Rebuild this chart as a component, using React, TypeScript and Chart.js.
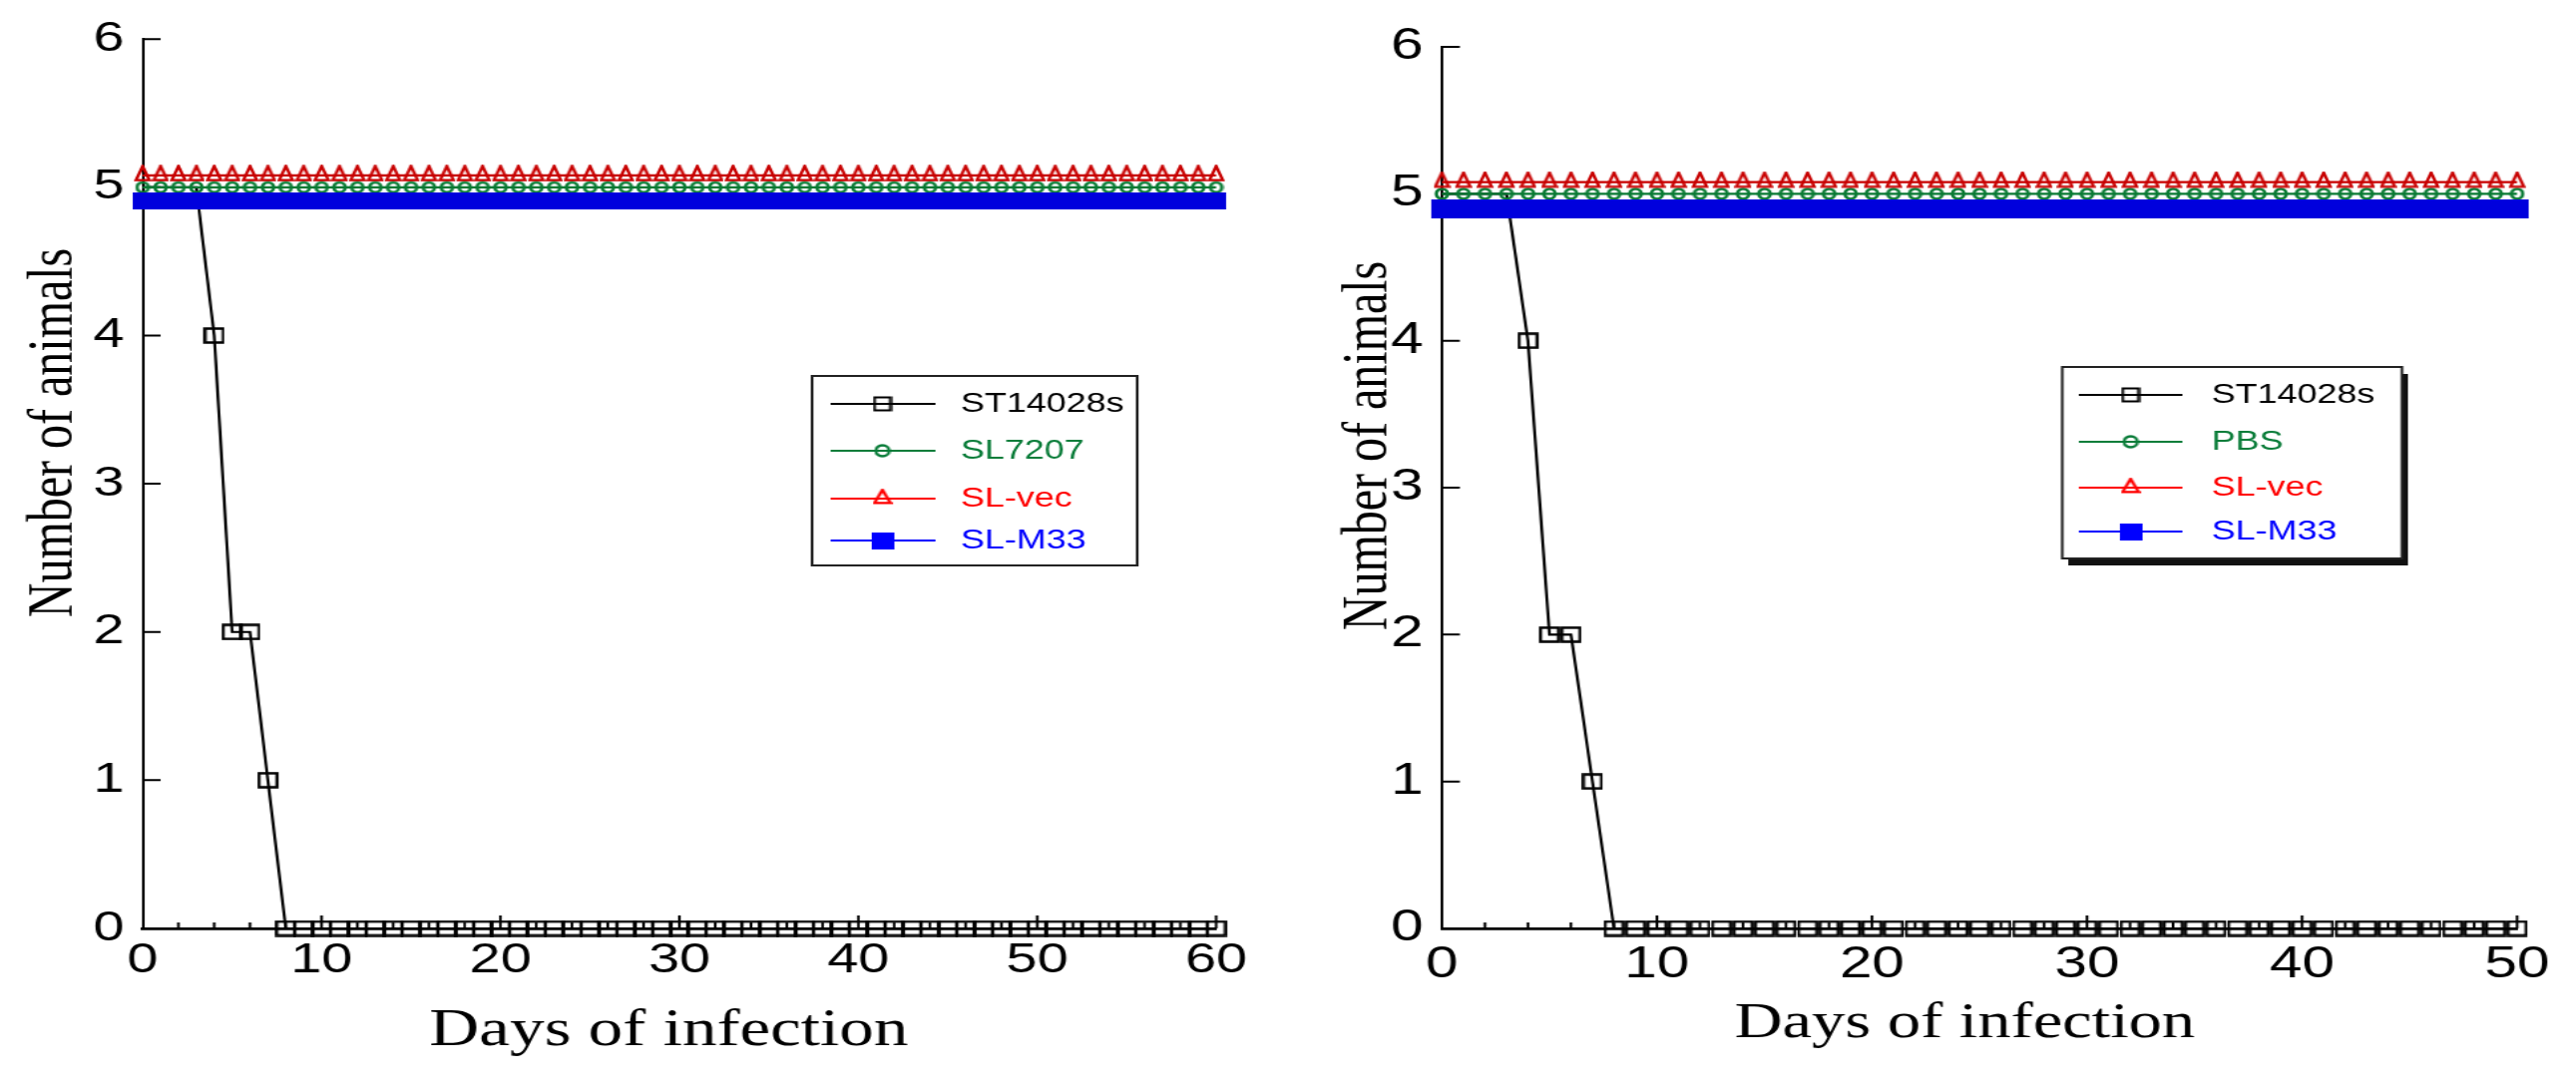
import React, { useEffect, useRef } from "react";
import { Chart, registerables } from "chart.js";

Chart.register(...registerables);

// ---------------- data ----------------
const daysLeft = [
  0, 1, 2, 3, 4, 5, 6, 7, 8, 9,
  10, 11, 12, 13, 14, 15, 16, 17, 18, 19,
  20, 21, 22, 23, 24, 25, 26, 27, 28, 29,
  30, 31, 32, 33, 34, 35, 36, 37, 38, 39,
  40, 41, 42, 43, 44, 45, 46, 47, 48, 49,
  50, 51, 52, 53, 54, 55, 56, 57, 58, 59,
  60,
];
const st14028sLeft = [
  5, 5, 5, 5, 4, 2, 2, 1, 0, 0,
  0, 0, 0, 0, 0, 0, 0, 0, 0, 0,
  0, 0, 0, 0, 0, 0, 0, 0, 0, 0,
  0, 0, 0, 0, 0, 0, 0, 0, 0, 0,
  0, 0, 0, 0, 0, 0, 0, 0, 0, 0,
  0, 0, 0, 0, 0, 0, 0, 0, 0, 0,
  0,
];
const sl7207Left = [
  5, 5, 5, 5, 5, 5, 5, 5, 5, 5,
  5, 5, 5, 5, 5, 5, 5, 5, 5, 5,
  5, 5, 5, 5, 5, 5, 5, 5, 5, 5,
  5, 5, 5, 5, 5, 5, 5, 5, 5, 5,
  5, 5, 5, 5, 5, 5, 5, 5, 5, 5,
  5, 5, 5, 5, 5, 5, 5, 5, 5, 5,
  5,
];
const slVecLeft = [
  5.08, 5.08, 5.08, 5.08, 5.08, 5.08, 5.08, 5.08, 5.08, 5.08,
  5.08, 5.08, 5.08, 5.08, 5.08, 5.08, 5.08, 5.08, 5.08, 5.08,
  5.08, 5.08, 5.08, 5.08, 5.08, 5.08, 5.08, 5.08, 5.08, 5.08,
  5.08, 5.08, 5.08, 5.08, 5.08, 5.08, 5.08, 5.08, 5.08, 5.08,
  5.08, 5.08, 5.08, 5.08, 5.08, 5.08, 5.08, 5.08, 5.08, 5.08,
  5.08, 5.08, 5.08, 5.08, 5.08, 5.08, 5.08, 5.08, 5.08, 5.08,
  5.08,
];
const slM33Left = [
  4.91, 4.91, 4.91, 4.91, 4.91, 4.91, 4.91, 4.91, 4.91, 4.91,
  4.91, 4.91, 4.91, 4.91, 4.91, 4.91, 4.91, 4.91, 4.91, 4.91,
  4.91, 4.91, 4.91, 4.91, 4.91, 4.91, 4.91, 4.91, 4.91, 4.91,
  4.91, 4.91, 4.91, 4.91, 4.91, 4.91, 4.91, 4.91, 4.91, 4.91,
  4.91, 4.91, 4.91, 4.91, 4.91, 4.91, 4.91, 4.91, 4.91, 4.91,
  4.91, 4.91, 4.91, 4.91, 4.91, 4.91, 4.91, 4.91, 4.91, 4.91,
  4.91,
];

const daysRight = [
  0, 1, 2, 3, 4, 5, 6, 7, 8, 9,
  10, 11, 12, 13, 14, 15, 16, 17, 18, 19,
  20, 21, 22, 23, 24, 25, 26, 27, 28, 29,
  30, 31, 32, 33, 34, 35, 36, 37, 38, 39,
  40, 41, 42, 43, 44, 45, 46, 47, 48, 49,
  50,
];
const st14028sRight = [
  5, 5, 5, 5, 4, 2, 2, 1, 0, 0,
  0, 0, 0, 0, 0, 0, 0, 0, 0, 0,
  0, 0, 0, 0, 0, 0, 0, 0, 0, 0,
  0, 0, 0, 0, 0, 0, 0, 0, 0, 0,
  0, 0, 0, 0, 0, 0, 0, 0, 0, 0,
  0,
];
const pbsRight = [
  5, 5, 5, 5, 5, 5, 5, 5, 5, 5,
  5, 5, 5, 5, 5, 5, 5, 5, 5, 5,
  5, 5, 5, 5, 5, 5, 5, 5, 5, 5,
  5, 5, 5, 5, 5, 5, 5, 5, 5, 5,
  5, 5, 5, 5, 5, 5, 5, 5, 5, 5,
  5,
];
const slVecRight = [
  5.08, 5.08, 5.08, 5.08, 5.08, 5.08, 5.08, 5.08, 5.08, 5.08,
  5.08, 5.08, 5.08, 5.08, 5.08, 5.08, 5.08, 5.08, 5.08, 5.08,
  5.08, 5.08, 5.08, 5.08, 5.08, 5.08, 5.08, 5.08, 5.08, 5.08,
  5.08, 5.08, 5.08, 5.08, 5.08, 5.08, 5.08, 5.08, 5.08, 5.08,
  5.08, 5.08, 5.08, 5.08, 5.08, 5.08, 5.08, 5.08, 5.08, 5.08,
  5.08,
];
const slM33Right = [
  4.9, 4.9, 4.9, 4.9, 4.9, 4.9, 4.9, 4.9, 4.9, 4.9,
  4.9, 4.9, 4.9, 4.9, 4.9, 4.9, 4.9, 4.9, 4.9, 4.9,
  4.9, 4.9, 4.9, 4.9, 4.9, 4.9, 4.9, 4.9, 4.9, 4.9,
  4.9, 4.9, 4.9, 4.9, 4.9, 4.9, 4.9, 4.9, 4.9, 4.9,
  4.9, 4.9, 4.9, 4.9, 4.9, 4.9, 4.9, 4.9, 4.9, 4.9,
  4.9,
];

const yTickValues = [1, 2, 3, 4, 5, 6];
const xMajorLeft = [10, 20, 30, 40, 50, 60];
const xMinorLeft = [2, 4, 6, 8, 12, 14, 16, 18, 22, 24, 26, 28, 32, 34, 36, 38, 42, 44, 46, 48, 52, 54, 56, 58];
const xMajorRight = [10, 20, 30, 40, 50];
const xMinorRight = [2, 4, 6, 8, 12, 14, 16, 18, 22, 24, 26, 28, 32, 34, 36, 38, 42, 44, 46, 48];

const labelsLeft = ["ST14028s", "SL7207", "SL-vec", "SL-M33"];
const labelsRight = ["ST14028s", "PBS", "SL-vec", "SL-M33"];
const xTitle = "Days of infection";
const yTitle = "Number of animals";

// ---------------- styling ----------------
const STRETCH = 1.33; // horizontal stretch of each panel
const PAGE_HALF = 1291;
const CW = 971; // canvas width (stretched to ~1291)
const CH = 1088;

const SANS = '"Liberation Sans", Arial, Helvetica, sans-serif';
const SERIF = '"Liberation Serif", "Times New Roman", Times, serif';

const plotColors = ["#000000", "#0a7a34", "#c80000", "#0000dd"];
const legendColors = ["#000000", "#0b7d3a", "#ff0000", "#0000ff"];

function makeMarker(kind: string, w: number, h: number, color: string, lw: number, fill: boolean) {
  const c = document.createElement("canvas");
  const pad = fill ? 0 : lw;
  const H = kind === "triangle" ? Math.ceil((h * 4) / 3 + pad) : Math.ceil(h + pad);
  c.width = Math.ceil(w + pad);
  c.height = H;
  const g = c.getContext("2d")!;
  g.strokeStyle = color;
  g.fillStyle = color;
  g.lineWidth = lw;
  const cx = c.width / 2;
  const cy = c.height / 2;
  g.beginPath();
  if (kind === "rect") {
    g.rect(cx - w / 2, cy - h / 2, w, h);
  } else if (kind === "circle") {
    g.ellipse(cx, cy, w / 2, h / 2, 0, 0, Math.PI * 2);
  } else if (kind === "triangle") {
    g.moveTo(cx, cy - (2 * h) / 3);
    g.lineTo(cx + w / 2, cy + h / 3);
    g.lineTo(cx - w / 2, cy + h / 3);
    g.closePath();
  }
  if (fill) g.fill();
  else g.stroke();
  return c;
}

type PanelSpec = {
  days: number[];
  series: number[][];
  labels: string[];
  xMax: number;
  xMajor: number[];
  xMinor: number[];
  left: number;
  right: number;
  top: number;
  bottom: number;
  tickFont: number;
  xPad: number;
  yPad: number;
  yTitleX: number;
  yTitleY: number;
  yTitleSize: number;
  xTitleX: number;
  xTitleY: number;
  xTitleSize: number;
  blueW: number;
  blueH: number;
  legend: {
    x: number;
    y: number;
    w: number;
    h: number;
    rows: number[];
    lineX1: number;
    lineX2: number;
    markX: number;
    textX: number;
    font: number;
    shadow: boolean;
  };
};

const leftSpec: PanelSpec = {
  days: daysLeft,
  series: [st14028sLeft, sl7207Left, slVecLeft, slM33Left],
  labels: labelsLeft,
  xMax: 60,
  xMajor: xMajorLeft,
  xMinor: xMinorLeft,
  left: 107.5,
  right: 916.5,
  top: 39,
  bottom: 931,
  tickFont: 42,
  xPad: 7,
  yPad: 14,
  yTitleX: 54,
  yTitleY: 434,
  yTitleSize: 48,
  xTitleX: 504,
  xTitleY: 1048,
  xTitleSize: 52,
  blueW: 15,
  blueH: 17,
  legend: {
    x: 612,
    y: 377,
    w: 245,
    h: 190,
    rows: [405, 452, 500, 542],
    lineX1: 626,
    lineX2: 705,
    markX: 665,
    textX: 724,
    font: 27,
    shadow: false,
  },
};

const rightSpec: PanelSpec = {
  days: daysRight,
  series: [st14028sRight, pbsRight, slVecRight, slM33Right],
  labels: labelsRight,
  xMax: 50,
  xMajor: xMajorRight,
  xMinor: xMinorRight,
  left: 116,
  right: 926.3,
  top: 47,
  bottom: 931,
  tickFont: 44,
  xPad: 10,
  yPad: 14,
  yTitleX: 74,
  yTitleY: 447,
  yTitleSize: 48,
  xTitleX: 510,
  xTitleY: 1040,
  xTitleSize: 50,
  blueW: 17,
  blueH: 19,
  legend: {
    x: 583.5,
    y: 368,
    w: 256,
    h: 192,
    rows: [396, 443, 489, 533],
    lineX1: 596,
    lineX2: 674,
    markX: 635,
    textX: 696,
    font: 27,
    shadow: true,
  },
};

function buildConfig(p: PanelSpec) {
  const plotMarkers = [
    makeMarker("rect", 13.5, 14, plotColors[0], 2.3, false),
    makeMarker("circle", 8.5, 10, plotColors[1], 2.6, false),
    makeMarker("triangle", 10, 14, plotColors[2], 2.4, false),
    makeMarker("rect", p.blueW, p.blueH, plotColors[3], 0, true),
  ];
  const legendMarkers = [
    makeMarker("rect", 12, 13, legendColors[0], 2.2, false),
    makeMarker("circle", 10, 11, legendColors[1], 2.4, false),
    makeMarker("triangle", 12, 13, legendColors[2], 2.4, false),
    makeMarker("rect", 17, 17, legendColors[3], 0, true),
  ];

  const decor = {
    id: "decor",
    beforeDatasetsDraw(chart: any) {
      const { ctx, chartArea: ca } = chart;
      const xs = chart.scales.x;
      const ys = chart.scales.y;
      ctx.save();
      ctx.strokeStyle = "#000";
      ctx.lineWidth = 2;
      ctx.beginPath();
      for (const v of yTickValues) {
        const py = ys.getPixelForValue(v);
        ctx.moveTo(ca.left, py);
        ctx.lineTo(ca.left + 13.5, py);
      }
      for (const v of p.xMajor) {
        const px = xs.getPixelForValue(v);
        ctx.moveTo(px, ca.bottom);
        ctx.lineTo(px, ca.bottom - 13);
      }
      for (const v of p.xMinor) {
        const px = xs.getPixelForValue(v);
        ctx.moveTo(px, ca.bottom);
        ctx.lineTo(px, ca.bottom - 6);
      }
      ctx.stroke();
      ctx.restore();
    },
    afterDraw(chart: any) {
      const { ctx } = chart;
      ctx.save();
      // axis titles
      ctx.fillStyle = "#000";
      ctx.font = `${p.xTitleSize}px ${SERIF}`;
      ctx.textAlign = "center";
      ctx.textBaseline = "alphabetic";
      ctx.fillText(xTitle, p.xTitleX, p.xTitleY);
      ctx.save();
      ctx.translate(p.yTitleX, p.yTitleY);
      ctx.rotate(-Math.PI / 2);
      ctx.font = `${p.yTitleSize}px ${SERIF}`;
      ctx.fillText(yTitle, 0, 0);
      ctx.restore();

      // legend
      const L = p.legend;
      if (L.shadow) {
        ctx.fillStyle = "#111";
        ctx.fillRect(L.x + 4.5, L.y + 7, L.w, L.h);
      }
      ctx.fillStyle = "#fff";
      ctx.fillRect(L.x, L.y, L.w, L.h);
      ctx.strokeStyle = "#222";
      ctx.lineWidth = 2;
      ctx.strokeRect(L.x, L.y, L.w, L.h);
      chart.data.datasets.forEach((ds: any, i: number) => {
        const ry = L.rows[i];
        ctx.strokeStyle = legendColors[i];
        ctx.lineWidth = 2.2;
        ctx.beginPath();
        ctx.moveTo(L.lineX1, ry);
        ctx.lineTo(L.lineX2, ry);
        ctx.stroke();
        const m = legendMarkers[i];
        ctx.drawImage(m, L.markX - m.width / 2, ry - m.height / 2);
        ctx.fillStyle = legendColors[i];
        ctx.font = `${L.font}px ${SANS}`;
        ctx.textAlign = "left";
        ctx.textBaseline = "middle";
        ctx.fillText(ds.label, L.textX, ry + 1);
      });
      ctx.restore();
    },
  };

  const orders = [4, 3, 2, 1];
  return {
    type: "line" as const,
    data: {
      datasets: p.series.map((vals, i) => ({
        label: p.labels[i],
        data: p.days.map((d, j) => ({ x: d, y: vals[j] })),
        borderColor: plotColors[i],
        backgroundColor: plotColors[i],
        borderWidth: 2.2,
        pointStyle: plotMarkers[i],
        // the ST14028s markers at the plateau are hidden beneath the other groups
        pointRadius: (c: any) => (i === 0 && c.raw && c.raw.y === 5 ? 0 : 8),
        pointHoverRadius: 8,
        fill: false,
        tension: 0,
        clip: false,
        order: orders[i],
      })),
    },
    options: {
      animation: false as const,
      responsive: false,
      devicePixelRatio: 1,
      events: [],
      layout: { padding: { left: 0, top: p.top, right: CW - p.right, bottom: 0 } },
      scales: {
        x: {
          type: "linear" as const,
          position: "bottom" as const,
          min: 0,
          max: p.xMax,
          grid: { display: false, drawTicks: false },
          border: { display: true, color: "#000", width: 2.7 },
          ticks: {
            stepSize: 10,
            color: "#000",
            font: { family: SANS, size: p.tickFont },
            padding: p.xPad,
            maxRotation: 0,
            autoSkip: false,
          },
          afterFit: (s: any) => {
            s.height = CH - p.bottom;
          },
        },
        y: {
          type: "linear" as const,
          position: "left" as const,
          min: 0,
          max: 6,
          grid: { display: false, drawTicks: false },
          border: { display: true, color: "#000", width: 2 },
          ticks: {
            stepSize: 1,
            color: "#000",
            font: { family: SANS, size: p.tickFont },
            padding: p.yPad,
            autoSkip: false,
          },
          afterFit: (s: any) => {
            s.width = p.left;
          },
        },
      },
      plugins: {
        legend: { display: false },
        tooltip: { enabled: false },
        title: { display: false },
      },
    },
    plugins: [decor],
  };
}

function Panel({ spec, offset }: { spec: PanelSpec; offset: number }) {
  const ref = useRef<HTMLCanvasElement>(null);
  useEffect(() => {
    if (!ref.current) return;
    const chart = new Chart(ref.current, buildConfig(spec) as any);
    return () => chart.destroy();
  }, [spec]);
  return (
    <div
      style={{
        position: "absolute",
        left: offset,
        top: 0,
        width: CW,
        height: CH,
        transform: `scaleX(${STRETCH})`,
        transformOrigin: "0 0",
      }}
    >
      <canvas ref={ref} width={CW} height={CH} style={{ width: CW, height: CH, display: "block" }} />
    </div>
  );
}

export default function App() {
  return (
    <div
      style={{
        position: "fixed",
        left: 0,
        top: 0,
        width: 2582,
        height: 1088,
        background: "#fff",
        overflow: "hidden",
      }}
    >
      <Panel spec={leftSpec} offset={0} />
      <Panel spec={rightSpec} offset={PAGE_HALF} />
    </div>
  );
}
